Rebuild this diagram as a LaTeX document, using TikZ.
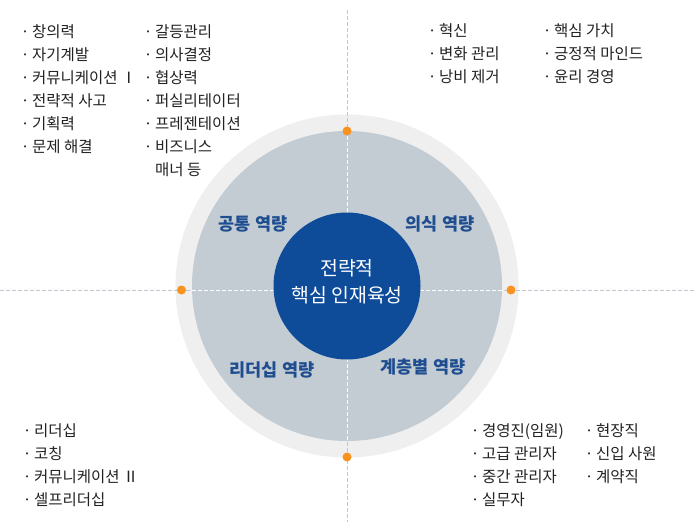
\documentclass[tikz,border=0pt]{standalone}
\usepackage{fontspec}
\setmainfont{Noto Sans CJK KR}
\definecolor{ringc}{HTML}{EFEFEF}
\definecolor{diskc}{HTML}{C3CBD3}
\definecolor{corec}{HTML}{0E4C9A}
\definecolor{labc}{HTML}{1E4E8F}
\definecolor{dotc}{HTML}{F7931E}
\definecolor{dashc}{HTML}{BFC7D1}
\definecolor{txtc}{HTML}{222222}
\newcommand\itm[1]{\makebox[14pt][c]{·}#1}
\begin{document}
\begin{tikzpicture}[x=1pt,y=-1pt,
  item/.style={anchor=base west, inner sep=0pt, font=\fontsize{15.5}{17}\selectfont, text=txtc},
  quad/.style={inner sep=0pt, font=\fontsize{17.5}{19}\selectfont\bfseries, text=labc},
  dashline/.style={draw=dashc, dash pattern=on 3.5pt off 2.5pt, line width=0.8pt},
  wdash/.style={draw=white, dash pattern=on 3.5pt off 2.5pt, line width=0.8pt},
  dot/.style={circle, fill=dotc, minimum size=9pt, inner sep=0pt},
  disk/.style={circle, inner sep=0pt}]
\useasboundingbox (0,0) rectangle (695,522);
\fill[white] (0,0) rectangle (695,522);
% rings
\node[disk, fill=ringc, minimum size=343pt] (ring) at (347,286) {};
\coordinate (vtop) at (347,10);
\coordinate (vbot) at (347,522);
\coordinate (hl) at (0,290);
\coordinate (hr) at (695,290);
\draw[dashline] (vtop) -- (vbot);
\draw[dashline] (hl) -- (hr);
\node[disk, fill=diskc, minimum size=310pt] (gray) at (347,286) {};
\begin{scope}
  \clip (347,286) circle (155pt);
  \draw[wdash] (vtop) -- (vbot);
  \draw[wdash] (hl) -- (hr);
\end{scope}
\node[disk, fill=corec, minimum size=147pt] (core) at (347,286) {};
\node[text=white, align=center, inner sep=0pt,
  font=\fontsize{19.4}{27}\selectfont] (coretxt) at (347,281.5) {전략적\\핵심 인재육성};
% dots
\node[dot] (dT) at (347,131) {};
\node[dot] (dL) at (181.5,290) {};
\node[dot] (dR) at (511,290) {};
\node[dot] (dB) at (347,457) {};
% quadrant labels
\node[quad] (q1) at (253,224) {공통 역량};
\node[quad] (q2) at (440,224) {의식 역량};
\node[quad] (q3) at (272,370) {리더십 역량};
\node[quad] (q4) at (423,367) {계층별 역량};
% top-left lists
\node[item] (a1) at (18,37) {\itm{창의력}};
\node[item] (a2) at (18,60) {\itm{자기계발}};
\node[item] (a3) at (18,83) {\itm{커뮤니케이션 Ⅰ}};
\node[item] (a4) at (18,106) {\itm{전략적 사고}};
\node[item] (a5) at (18,129) {\itm{기획력}};
\node[item] (a6) at (18,152) {\itm{문제 해결}};
\node[item] (b1) at (141,37) {\itm{갈등관리}};
\node[item] (b2) at (141,60) {\itm{의사결정}};
\node[item] (b3) at (141,83) {\itm{협상력}};
\node[item] (b4) at (141,106) {\itm{퍼실리테이터}};
\node[item] (b5) at (141,129) {\itm{프레젠테이션}};
\node[item] (b6) at (141,152) {\itm{비즈니스}};
\node[item] (b7) at (155,175) {매너 등};
% top-right lists
\node[item] (c1) at (425,36) {\itm{혁신}};
\node[item] (c2) at (425,59) {\itm{변화 관리}};
\node[item] (c3) at (425,82) {\itm{낭비 제거}};
\node[item] (d1) at (540,36) {\itm{핵심 가치}};
\node[item] (d2) at (540,59) {\itm{긍정적 마인드}};
\node[item] (d3) at (540,82) {\itm{윤리 경영}};
% bottom-left list
\node[item] (e1) at (20,436) {\itm{리더십}};
\node[item] (e2) at (20,459) {\itm{코칭}};
\node[item] (e3) at (20,482) {\itm{커뮤니케이션 Ⅱ}};
\node[item] (e4) at (20,505) {\itm{셀프리더십}};
% bottom-right lists
\node[item] (f1) at (468,436) {\itm{경영진(임원)}};
\node[item] (f2) at (468,459) {\itm{고급 관리자}};
\node[item] (f3) at (468,482) {\itm{중간 관리자}};
\node[item] (f4) at (468,505) {\itm{실무자}};
\node[item] (g1) at (582,436) {\itm{현장직}};
\node[item] (g2) at (582,459) {\itm{신입 사원}};
\node[item] (g3) at (582,482) {\itm{계약직}};
\end{tikzpicture}
\end{document}
